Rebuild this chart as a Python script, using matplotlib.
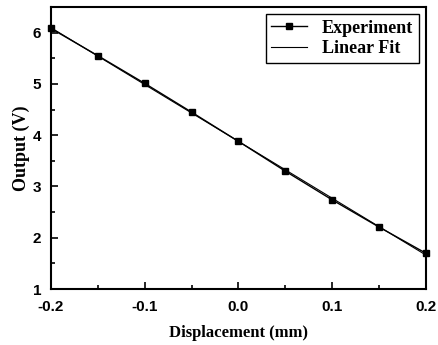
import numpy as np
import matplotlib.pyplot as plt
from matplotlib.ticker import MultipleLocator

plt.rcParams['axes.unicode_minus'] = False

# Measured output vs displacement
displacement = [-0.2, -0.15, -0.1, -0.05, 0.0, 0.05, 0.1, 0.15, 0.2]
output = [6.08, 5.55, 5.01, 4.45, 3.88, 3.30, 2.74, 2.21, 1.70]

# Linear fit
coef = np.polyfit(displacement, output, 1)
fit_x = np.array([-0.2, 0.2])
fit_y = np.polyval(coef, fit_x)

fig = plt.figure(figsize=(4.39, 3.45), dpi=100)
ax = fig.add_axes([0.116, 0.162, 0.854, 0.818])

ax.plot(displacement, output, 'k-s', markersize=5, linewidth=1.0, label='Experiment', clip_on=False)
ax.plot(fit_x, fit_y, 'k-', linewidth=0.8, label='Linear Fit')

ax.set_xlim(-0.2, 0.2)
ax.set_ylim(1, 6.5)
ax.xaxis.set_major_locator(MultipleLocator(0.1))
ax.xaxis.set_minor_locator(MultipleLocator(0.05))
ax.yaxis.set_major_locator(MultipleLocator(1))
ax.yaxis.set_minor_locator(MultipleLocator(0.5))
ax.tick_params(which='both', direction='in', width=1.2)
ax.tick_params(which='major', length=5)
ax.tick_params(which='minor', length=3)
ax.tick_params(axis='x', which='major', pad=8)
ax.tick_params(axis='y', which='major', pad=7)
for lab in ax.get_xticklabels() + ax.get_yticklabels():
    lab.set_fontfamily('Liberation Sans')
    lab.set_fontweight('bold')
    lab.set_fontsize(11)
for s in ax.spines.values():
    s.set_linewidth(1.5)

ax.set_xlabel('Displacement (mm)', family='Liberation Serif', fontweight='bold', fontsize=12, labelpad=8)
ax.set_ylabel('Output (V)', family='Liberation Serif', fontweight='bold', fontsize=13, labelpad=2)

leg = ax.legend(loc='upper right', prop={'family': 'Liberation Serif', 'weight': 'bold', 'size': 13},
                fancybox=False, edgecolor='black', framealpha=1, handlelength=2.0,
                borderpad=0.3, labelspacing=0.2, borderaxespad=0.4)
leg.get_frame().set_linewidth(1.0)

fig.savefig('out.png', dpi=100)
